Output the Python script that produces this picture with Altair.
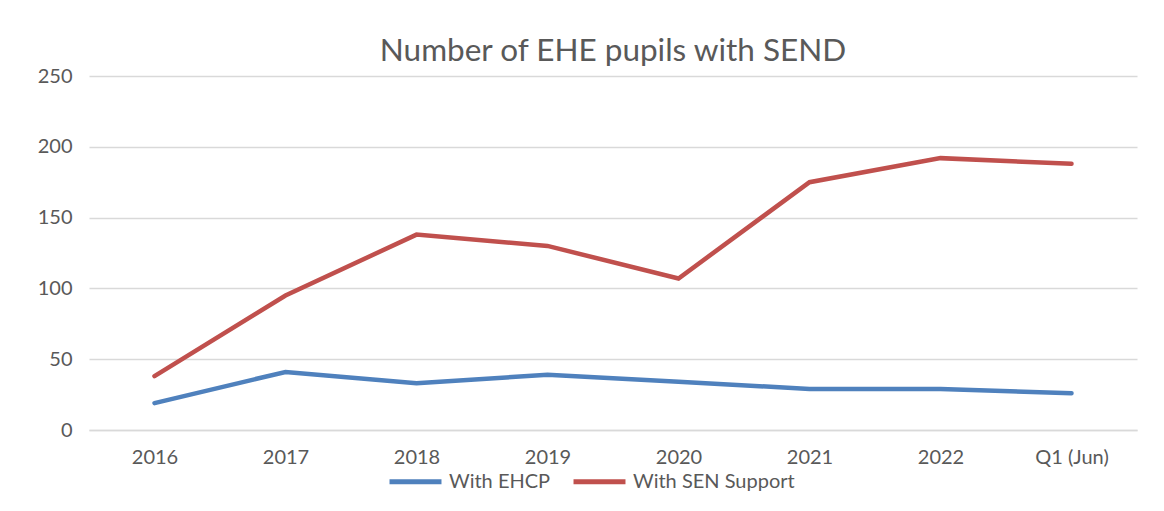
import altair as alt
import pandas as pd

categories = ["2016", "2017", "2018", "2019", "2020", "2021", "2022", "Q1 (Jun)"]
ehcp = [19, 41, 33, 39, 34, 29, 29, 26]
sen_support = [38, 95, 138, 130, 107, 175, 192, 188]
series_names = ["With EHCP", "With SEN Support"]
colors = ["#4f81bd", "#c0504d"]

rows = []
for c, v in zip(categories, ehcp):
    rows.append({"period": c, "series": series_names[0], "value": v})
for c, v in zip(categories, sen_support):
    rows.append({"period": c, "series": series_names[1], "value": v})
df = pd.DataFrame(rows)

FONT = "Lato"
GREY = "#595959"

chart = alt.Chart(df).mark_line(strokeWidth=4.5, strokeCap="round", strokeJoin="miter").encode(
    x=alt.X("period:N", sort=categories, title=None,
            scale=alt.Scale(paddingInner=0, paddingOuter=0.5),
            axis=alt.Axis(labelAngle=0, labelFontSize=20, labelColor=GREY, labelFont=FONT,
                          ticks=False, domainColor="#d9d9d9", domainWidth=1.5, labelPadding=17,
                          grid=False)),
    y=alt.Y("value:Q", title=None,
            scale=alt.Scale(domain=[0, 250], nice=False),
            axis=alt.Axis(values=[0, 50, 100, 150, 200, 250], labelFontSize=20, labelColor=GREY,
                          labelFont=FONT, ticks=False, domain=False, labelPadding=17,
                          gridColor="#d9d9d9", gridWidth=1.5)),
    color=alt.Color("series:N", sort=series_names,
                    scale=alt.Scale(domain=series_names, range=colors),
                    legend=alt.Legend(title=None, orient="none", direction="horizontal",
                                      legendX=298, legendY=377, labelLimit=400,
                                      symbolType="stroke", symbolStrokeWidth=5, symbolSize=2700,
                                      labelFontSize=20, labelColor=GREY, labelFont=FONT,
                                      columnPadding=12, labelOffset=5)),
).properties(
    width=1048,
    height=354,
    title=alt.TitleParams("Number of EHE pupils with SEND", fontSize=31.5, font=FONT,
                          color=GREY, fontWeight="normal", anchor="middle", offset=-1),
    padding={"left": 81, "top": 68, "right": 19, "bottom": 73},
    autosize=alt.AutoSizeParams(type="none"),
).configure(background="white", view=alt.ViewConfig(strokeWidth=0))

chart.save("out.html", embed_options={"renderer": "svg", "actions": False})
